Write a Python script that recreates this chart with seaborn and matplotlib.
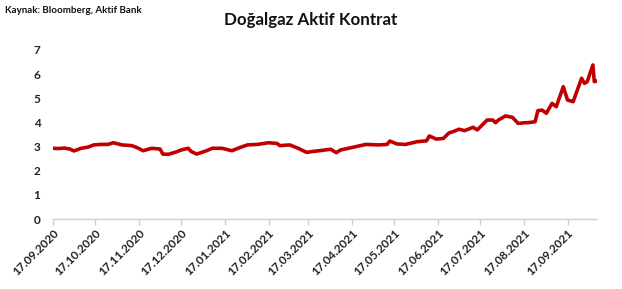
import matplotlib
matplotlib.use("Agg")
import matplotlib.pyplot as plt
import matplotlib.dates as mdates
import seaborn as sns
import pandas as pd

dates = ["2020-09-17", "2020-09-21", "2020-09-25", "2020-09-29", "2020-10-02", "2020-10-07",
         "2020-10-12", "2020-10-16", "2020-10-21", "2020-10-26", "2020-10-30", "2020-11-05",
         "2020-11-12", "2020-11-16", "2020-11-20", "2020-11-26", "2020-12-02", "2020-12-04",
         "2020-12-08", "2020-12-14", "2020-12-17", "2020-12-22", "2020-12-24", "2020-12-28",
         "2021-01-04", "2021-01-08", "2021-01-15", "2021-01-22", "2021-01-28", "2021-02-02",
         "2021-02-09", "2021-02-17", "2021-02-23", "2021-02-25", "2021-03-04", "2021-03-10",
         "2021-03-16", "2021-03-19", "2021-03-25", "2021-04-02", "2021-04-06", "2021-04-09",
         "2021-04-20", "2021-04-27", "2021-05-06", "2021-05-12", "2021-05-14", "2021-05-19",
         "2021-05-25", "2021-06-02", "2021-06-09", "2021-06-11", "2021-06-16", "2021-06-21",
         "2021-06-25", "2021-06-28", "2021-07-02", "2021-07-06", "2021-07-12", "2021-07-15",
         "2021-07-22", "2021-07-26", "2021-07-28", "2021-07-30", "2021-08-04", "2021-08-09",
         "2021-08-13", "2021-08-18", "2021-08-20", "2021-08-25", "2021-08-27", "2021-08-30",
         "2021-09-02", "2021-09-06", "2021-09-09", "2021-09-14", "2021-09-17", "2021-09-21",
         "2021-09-27", "2021-09-29", "2021-10-01", "2021-10-05", "2021-10-06", "2021-10-08"]
prices = [2.93, 2.92, 2.94, 2.90, 2.82, 2.93,
          2.98, 3.07, 3.09, 3.09, 3.16, 3.07,
          3.04, 2.95, 2.83, 2.93, 2.90, 2.69,
          2.68, 2.79, 2.86, 2.93, 2.80, 2.69,
          2.83, 2.93, 2.93, 2.83, 2.97, 3.07,
          3.09, 3.16, 3.13, 3.04, 3.07, 2.93,
          2.76, 2.79, 2.83, 2.89, 2.75, 2.86,
          3.00, 3.09, 3.07, 3.09, 3.23, 3.11,
          3.09, 3.20, 3.24, 3.44, 3.31, 3.34,
          3.57, 3.62, 3.72, 3.66, 3.80, 3.69,
          4.10, 4.10, 3.99, 4.10, 4.27, 4.21,
          3.96, 3.99, 3.99, 4.03, 4.49, 4.51,
          4.38, 4.79, 4.65, 5.48, 4.93, 4.86,
          5.83, 5.62, 5.69, 6.38, 5.69, 5.72]
tick_labels = ["17.09.2020", "17.10.2020", "17.11.2020", "17.12.2020", "17.01.2021",
               "17.02.2021", "17.03.2021", "17.04.2021", "17.05.2021", "17.06.2021",
               "17.07.2021", "17.08.2021", "17.09.2021"]
y_ticks = [0, 1, 2, 3, 4, 5, 6, 7]

df = pd.DataFrame({"date": pd.to_datetime(dates), "price": prices})
tick_dates = pd.to_datetime(tick_labels, format="%d.%m.%Y")

sns.set_theme(style="white")
plt.rcParams["font.family"] = ["Lato", "DejaVu Sans"]

fig = plt.figure(figsize=(6.22, 2.89), dpi=100)
ax = fig.add_axes([0.085, 0.242, 0.875, 0.585])

sns.lineplot(data=df, x="date", y="price", ax=ax, color="#C00000", linewidth=2.6)

ax.set_ylim(0, 7)
ax.set_yticks(y_ticks)
ax.set_yticklabels([str(v) for v in y_ticks], fontsize=8.5, fontweight="bold", color="#222222")
ax.set_xlim(pd.Timestamp("2020-09-17"), pd.Timestamp("2021-10-08"))
ax.set_xticks(tick_dates)
ax.set_xticklabels(tick_labels, rotation=45, ha="right", rotation_mode="anchor",
                   fontsize=8.5, fontweight="bold", color="#222222")
ax.set_xlabel("")
ax.set_ylabel("")

for s in ["top", "right", "left"]:
    ax.spines[s].set_visible(False)
ax.spines["bottom"].set_color("#D0D0D0")
ax.spines["bottom"].set_linewidth(1)
ax.tick_params(axis="x", which="major", length=4, color="#D0D0D0", width=1, pad=2, direction="out", bottom=True)
ax.tick_params(axis="y", length=0, pad=9)
ax.grid(False)

fig.text(0.5, 0.93, "Doğalgaz Aktif Kontrat", ha="center", va="center",
         fontsize=12.2, fontweight="bold", color="#111111")
fig.text(0.008, 0.965, "Kaynak: Bloomberg, Aktif Bank", ha="left", va="center",
         fontsize=7, fontweight="bold", color="#111111")

fig.savefig("out.png", dpi=100, facecolor="white")
